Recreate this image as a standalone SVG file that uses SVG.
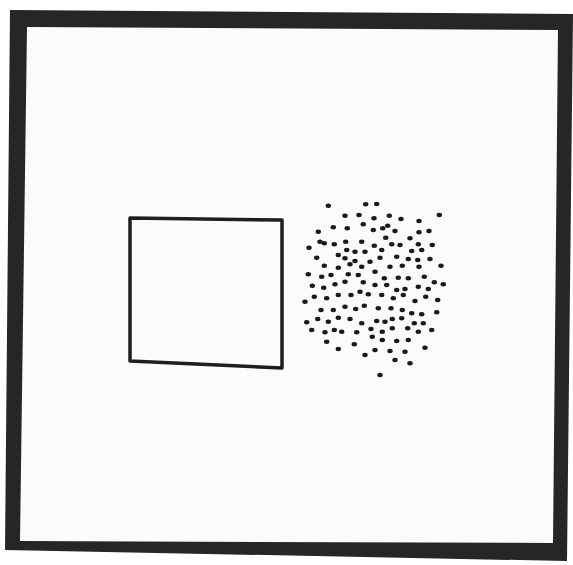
<svg xmlns="http://www.w3.org/2000/svg" width="573" height="565" viewBox="0 0 573 565">
<style>
.frame{fill:#262626;fill-rule:evenodd}
.sq{fill:none;stroke:#1e1e1e;stroke-width:3.5;stroke-linejoin:round}
.d{fill:#1a1a1a}
</style>
<defs><ellipse id="dt" class="d" rx="2.7" ry="2.2"/></defs>
<rect x="0" y="0" width="573" height="565" fill="#ffffff"/>
<polygon points="27,27 558,30 553,543 20,541" fill="#fbfbfb"/>
<path class="frame" d="M10,10 L573,14 L567,561 L5,550 Z M27,27 L20,541 L553,543 L558,30 Z"/>
<g id="square">
<path class="sq" d="M130,218 L282,220 L282,368 L130,361 Z"/>
</g>
<g id="dots">
<use href="#dt" x="328.3" y="205.7"/><use href="#dt" x="365.7" y="204.3"/><use href="#dt" x="376.7" y="204"/>
<use href="#dt" x="345" y="215.7"/><use href="#dt" x="359" y="215"/><use href="#dt" x="374" y="218.3"/><use href="#dt" x="389.3" y="215.7"/><use href="#dt" x="401" y="219"/><use href="#dt" x="419" y="221"/><use href="#dt" x="439.3" y="215"/>
<use href="#dt" x="333.3" y="227.3"/><use href="#dt" x="347.3" y="228.3"/><use href="#dt" x="363.3" y="224.3"/><use href="#dt" x="373.3" y="230"/><use href="#dt" x="382.7" y="228.3"/><use href="#dt" x="387.7" y="225.7"/><use href="#dt" x="395" y="231"/><use href="#dt" x="419" y="232.3"/><use href="#dt" x="429" y="231"/>
<use href="#dt" x="318.3" y="231.7"/><use href="#dt" x="320" y="241.7"/><use href="#dt" x="324.3" y="243.3"/><use href="#dt" x="334.3" y="244.3"/><use href="#dt" x="345.7" y="241.7"/><use href="#dt" x="361.7" y="241.7"/><use href="#dt" x="374.3" y="245.7"/><use href="#dt" x="385.7" y="237.7"/><use href="#dt" x="391.7" y="244.3"/><use href="#dt" x="400" y="245"/><use href="#dt" x="410" y="238.3"/><use href="#dt" x="418.3" y="244.3"/><use href="#dt" x="432.3" y="245"/>
<use href="#dt" x="309" y="247.7"/><use href="#dt" x="338.3" y="255"/><use href="#dt" x="346.7" y="250"/><use href="#dt" x="355" y="251.7"/><use href="#dt" x="365" y="251.7"/><use href="#dt" x="381.7" y="250"/><use href="#dt" x="411.7" y="251"/><use href="#dt" x="421.7" y="250"/>
<use href="#dt" x="316.7" y="257.7"/><use href="#dt" x="345" y="258.3"/><use href="#dt" x="355" y="261"/><use href="#dt" x="370" y="261.7"/><use href="#dt" x="380" y="257.7"/><use href="#dt" x="396.7" y="256.7"/><use href="#dt" x="408.3" y="259"/><use href="#dt" x="417.7" y="260"/><use href="#dt" x="430" y="259"/>
<use href="#dt" x="324.3" y="265.7"/><use href="#dt" x="338.3" y="267.7"/><use href="#dt" x="350" y="264.3"/><use href="#dt" x="361.7" y="266.7"/><use href="#dt" x="375" y="271.7"/><use href="#dt" x="390" y="266.7"/><use href="#dt" x="402.3" y="265.7"/><use href="#dt" x="419" y="266.7"/><use href="#dt" x="441" y="265.7"/>
<use href="#dt" x="308.3" y="274.3"/><use href="#dt" x="321.7" y="276.7"/><use href="#dt" x="331" y="275"/><use href="#dt" x="348.3" y="274.3"/><use href="#dt" x="358.3" y="275"/><use href="#dt" x="384.3" y="278.3"/><use href="#dt" x="398.3" y="277.7"/><use href="#dt" x="408.3" y="278.3"/><use href="#dt" x="424.3" y="276.7"/><use href="#dt" x="434.3" y="282.3"/><use href="#dt" x="443.3" y="284.3"/>
<use href="#dt" x="312.3" y="285.7"/><use href="#dt" x="323.7" y="287.7"/><use href="#dt" x="335" y="284.3"/><use href="#dt" x="345" y="281.7"/><use href="#dt" x="363.3" y="282.3"/><use href="#dt" x="375" y="285"/><use href="#dt" x="386.7" y="285"/><use href="#dt" x="396.7" y="290"/><use href="#dt" x="405" y="289"/><use href="#dt" x="418.3" y="286.7"/><use href="#dt" x="428.3" y="289"/>
<use href="#dt" x="305" y="301.7"/><use href="#dt" x="314.3" y="296.7"/><use href="#dt" x="326.7" y="298.3"/><use href="#dt" x="338.3" y="295"/><use href="#dt" x="351" y="295"/><use href="#dt" x="360" y="291.7"/><use href="#dt" x="368.3" y="294.3"/><use href="#dt" x="381.7" y="295"/><use href="#dt" x="393.3" y="298.3"/><use href="#dt" x="403.3" y="295"/><use href="#dt" x="415" y="301"/><use href="#dt" x="425.7" y="296.7"/><use href="#dt" x="437.7" y="300"/>
<use href="#dt" x="321" y="310"/><use href="#dt" x="333.3" y="310"/><use href="#dt" x="345" y="306.7"/><use href="#dt" x="355.7" y="309"/><use href="#dt" x="364.3" y="305.7"/><use href="#dt" x="378.3" y="308.3"/><use href="#dt" x="391" y="308.3"/><use href="#dt" x="402.3" y="310"/><use href="#dt" x="411.7" y="313.3"/><use href="#dt" x="421.7" y="314.3"/><use href="#dt" x="436.7" y="312.3"/>
<use href="#dt" x="306.7" y="322.3"/><use href="#dt" x="317.7" y="319"/><use href="#dt" x="328.3" y="321.7"/><use href="#dt" x="338.3" y="317.7"/><use href="#dt" x="350" y="319"/><use href="#dt" x="361.7" y="323.3"/><use href="#dt" x="376.7" y="321"/><use href="#dt" x="385" y="321.7"/><use href="#dt" x="392.3" y="319"/><use href="#dt" x="401.7" y="318.3"/><use href="#dt" x="414.3" y="323.3"/><use href="#dt" x="423.3" y="323.3"/>
<use href="#dt" x="311.7" y="330"/><use href="#dt" x="325" y="332.3"/><use href="#dt" x="334.3" y="330"/><use href="#dt" x="341.7" y="331.7"/><use href="#dt" x="356.7" y="332.3"/><use href="#dt" x="371" y="329"/><use href="#dt" x="382.3" y="331.7"/><use href="#dt" x="392.3" y="328.3"/><use href="#dt" x="407.7" y="328.3"/><use href="#dt" x="418.3" y="331.7"/><use href="#dt" x="431.7" y="330"/>
<use href="#dt" x="326.7" y="341.7"/><use href="#dt" x="338.3" y="349"/><use href="#dt" x="354.3" y="344.3"/><use href="#dt" x="372.3" y="336.7"/><use href="#dt" x="382.3" y="340"/><use href="#dt" x="396.7" y="341"/><use href="#dt" x="408.3" y="340"/><use href="#dt" x="425" y="347.7"/>
<use href="#dt" x="365" y="355"/><use href="#dt" x="375" y="350"/><use href="#dt" x="390" y="351"/><use href="#dt" x="405" y="351.7"/>
<use href="#dt" x="395" y="360"/><use href="#dt" x="410" y="363.3"/>
<use href="#dt" x="380" y="375"/>
</g>
</svg>
